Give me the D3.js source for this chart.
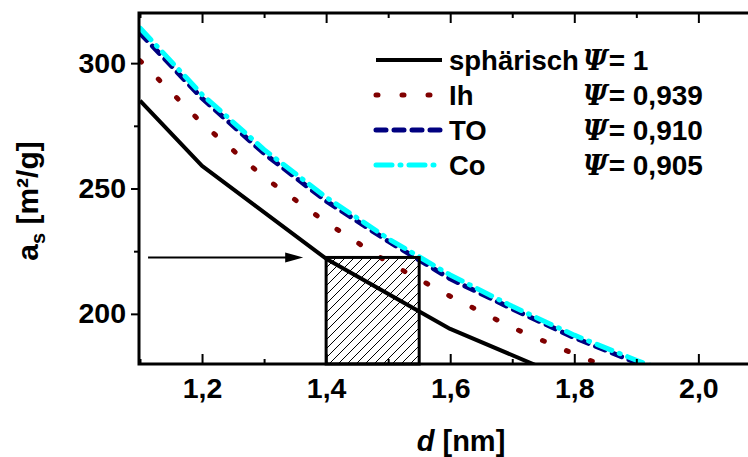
<!DOCTYPE html>
<html>
<head>
<meta charset="utf-8">
<script src="https://cdn.jsdelivr.net/npm/d3@7"></script>
<style>
  body { margin: 0; background: #fff; }
  svg { display: block; font-family: "Liberation Sans", Arial, sans-serif; font-weight: bold; }
</style>
</head>
<body>
<div id="chart"></div>
<script>
// values
const dSph = [1.1, 1.2, 1.4, 1.6, 1.8];
const asSph = [285, 259, 222, 194, 173];
const dShape = [1.1, 1.2, 1.3, 1.4, 1.5, 1.6, 1.7, 1.8, 1.9, 2.0];
const asIh = [301, 276, 254.5, 236.5, 220.5, 207, 194.5, 184, 174, 165.5];
const asTO = [312, 286, 264, 245, 229, 214, 202, 190.5, 180.5, 171.5];
const asCo = [314, 287.5, 265.5, 246.5, 230, 215.5, 203, 191.5, 181.5, 172.5];
const names = ['sphärisch', 'Ih', 'TO', 'Co'];
const psi = ['1', '0,939', '0,910', '0,905'];
const xTicks = [1.2, 1.4, 1.6, 1.8, 2.0];
const xMinor = [1.1, 1.3, 1.5, 1.7, 1.9];
const yTicks = [200, 250, 300];
const yMinor = [225, 275];
const boxD = [1.4, 1.55];
const boxAs = [180, 222.5];
const arrowD = [1.113, 1.363];

const W = 748, H = 457;
const x = d3.scaleLinear().domain([1.1, 2.08]).range([140, 748]);
const y = d3.scaleLinear().domain([180, 320]).range([364, 13]);
const fmt = (v) => d3.format('.1f')(v).replace('.', ',');

const series = [
  { xs: dSph, ys: asSph, color: '#000', dash: null, w: 4, cap: 'butt' },
  { xs: dShape, ys: asIh, color: '#800000', dash: '2 24', w: 5, cap: 'round' },
  { xs: dShape, ys: asTO, color: '#000080', dash: '10 8', w: 5, cap: 'round' },
  { xs: dShape, ys: asCo, color: '#00ffff', dash: '16 8 1 8', w: 5, cap: 'round' },
];

const svg = d3.select('#chart').append('svg').attr('width', W).attr('height', H);
const defs = svg.append('defs');
defs.append('clipPath').attr('id', 'clip').append('rect')
  .attr('x', x(1.1) - 1).attr('y', y(320)).attr('width', W).attr('height', y(180) - y(320));
const pat = defs.append('pattern').attr('id', 'hatch').attr('patternUnits', 'userSpaceOnUse')
  .attr('width', 9).attr('height', 9);
pat.append('path').attr('d', 'M0,9 L9,0 M-2,2 L2,-2 M7,11 L11,7')
  .attr('stroke', '#000').attr('stroke-width', 1);

// hatched box
svg.append('rect')
  .attr('x', x(boxD[0])).attr('y', y(boxAs[1]))
  .attr('width', x(boxD[1]) - x(boxD[0])).attr('height', y(boxAs[0]) - y(boxAs[1]))
  .attr('fill', 'url(#hatch)');

// curves
const line = d3.line().x((p) => x(p[0])).y((p) => y(p[1]));
const plot = svg.append('g').attr('clip-path', 'url(#clip)');
series.forEach((s) => {
  plot.append('path')
    .datum(s.xs.map((v, i) => [v, s.ys[i]]))
    .attr('d', line)
    .attr('fill', 'none')
    .attr('stroke', s.color)
    .attr('stroke-width', s.w)
    .attr('stroke-linecap', s.cap)
    .attr('stroke-linejoin', 'round')
    .attr('stroke-dasharray', s.dash);
});

// box outline
svg.append('rect')
  .attr('x', x(boxD[0])).attr('y', y(boxAs[1]))
  .attr('width', x(boxD[1]) - x(boxD[0])).attr('height', y(boxAs[0]) - y(boxAs[1]))
  .attr('fill', 'none').attr('stroke', '#000').attr('stroke-width', 3);

// arrow
const ay = y(boxAs[1]);
svg.append('line')
  .attr('x1', x(arrowD[0])).attr('x2', x(arrowD[1]) - 12)
  .attr('y1', ay).attr('y2', ay)
  .attr('stroke', '#000').attr('stroke-width', 2);
svg.append('path')
  .attr('d', `M${x(arrowD[1])},${ay} L${x(arrowD[1]) - 18},${ay - 5} L${x(arrowD[1]) - 18},${ay + 5} Z`)
  .attr('fill', '#000');

// axes
const styleAx = (g) => {
  g.selectAll('line').attr('stroke', '#000').attr('stroke-width', 2);
  g.selectAll('.domain').remove();
  g.selectAll('text').attr('font-size', 28.5).attr('font-weight', 'bold').attr('fill', '#000')
    .attr('font-family', '"Liberation Sans", Arial, sans-serif');
};
svg.append('g').attr('transform', `translate(0,${y(180)})`)
  .call(d3.axisBottom(x).tickValues(xTicks).tickFormat(fmt).tickSize(-10).tickPadding(14))
  .call(styleAx);
svg.append('g').attr('transform', `translate(0,${y(180)})`)
  .call(d3.axisBottom(x).tickValues(xMinor).tickFormat('').tickSize(-5))
  .call(styleAx);
svg.append('g').attr('transform', `translate(0,${y(320)})`)
  .call(d3.axisTop(x).tickValues(xTicks).tickFormat('').tickSize(-10))
  .call(styleAx);
svg.append('g').attr('transform', `translate(0,${y(320)})`)
  .call(d3.axisTop(x).tickValues(xMinor).tickFormat('').tickSize(-5))
  .call(styleAx);
svg.append('g').attr('transform', `translate(${x(1.1) - 1},0)`)
  .call(d3.axisLeft(y).tickValues(yTicks).tickSize(8).tickPadding(5))
  .call(styleAx);
svg.append('g').attr('transform', `translate(${x(1.1) - 1},0)`)
  .call(d3.axisLeft(y).tickValues(yMinor).tickFormat('').tickSize(5))
  .call(styleAx);

// frame: left, bottom, top
svg.append('path')
  .attr('d', `M${W},${y(320)} H${x(1.1) - 1} V${y(180)} H${W}`)
  .attr('fill', 'none').attr('stroke', '#000').attr('stroke-width', 3);

// axis titles
const xt = svg.append('text').attr('x', 461).attr('y', 451).attr('text-anchor', 'middle')
  .attr('font-size', 29);
xt.append('tspan').attr('font-style', 'italic').text('d');
xt.append('tspan').text(' [nm]');

const yt = svg.append('text').attr('transform', 'translate(38,201) rotate(-90)')
  .attr('text-anchor', 'middle').attr('font-size', 30);
yt.append('tspan').text('a');
yt.append('tspan').attr('font-size', 20).attr('dy', 7).text('s');
yt.append('tspan').attr('dy', -7).text(' [m²/g]');

// legend
const leg = svg.append('g');
series.forEach((s, i) => {
  const ly = 60 + i * 35;
  leg.append('line')
    .attr('x1', 376).attr('x2', 442).attr('y1', ly).attr('y2', ly)
    .attr('stroke', s.color).attr('stroke-width', s.w)
    .attr('stroke-linecap', s.cap).attr('stroke-dasharray', s.dash);
  leg.append('text').attr('x', 449).attr('y', ly + 10).attr('font-size', 27.5).text(names[i]);
  const pt = leg.append('text').attr('x', 583).attr('y', ly + 10).attr('font-size', 28);
  pt.append('tspan').attr('font-size', 27)
    .attr('font-family', '"DejaVu Serif", serif').attr('font-style', 'italic').text('Ψ');
  pt.append('tspan').attr('dx', 1).text('= ' + psi[i]);
});
</script>
</body>
</html>
